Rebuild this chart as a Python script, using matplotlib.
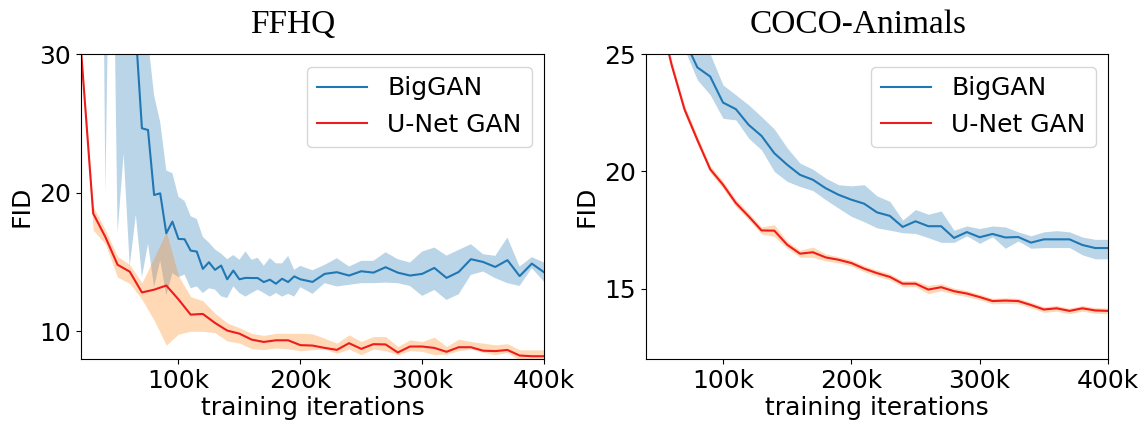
import matplotlib
matplotlib.use("Agg")
import matplotlib.pyplot as plt
import numpy as np

# ---------------- FFHQ ----------------
ffhq_unet_x = list(range(20, 401, 10))
ffhq_unet = [30.3, 18.5, 16.8, 14.8, 14.3, 12.8, 13.0, 13.3, 12.3, 11.2,
             11.25, 10.6, 10.05, 9.83, 9.4, 9.23, 9.35, 9.35, 9.0, 8.97,
             8.8, 8.66, 9.14, 8.73, 9.07, 9.05, 8.47, 8.9, 8.9, 8.8,
             8.52, 8.85, 8.85, 8.6, 8.57, 8.65, 8.25, 8.2, 8.2]
ffhq_unet_hi = [30.6, 19.0, 17.3, 15.4, 14.8, 13.5, 15.3, 17.2, 14.0, 12.5,
                12.2, 11.3, 10.6, 10.25, 9.85, 9.7, 9.85, 9.85, 9.86, 9.81,
                9.5, 9.14, 9.74, 9.26, 9.62, 9.62, 8.9, 9.38, 9.26, 9.57,
                8.9, 9.43, 9.26, 9.14, 9.02, 9.1, 8.66, 8.66, 8.66]
ffhq_unet_lo = [29.9, 17.3, 16.3, 13.9, 13.45, 12.3, 10.8, 9.0, 9.8, 10.0,
                10.0, 9.9, 9.3, 9.15, 8.75, 8.68, 8.8, 8.73, 8.6, 8.67,
                8.72, 8.41, 8.72, 8.31, 8.72, 8.6, 8.31, 8.6, 8.55, 8.31,
                8.36, 8.6, 8.72, 8.48, 8.31, 8.48, 7.9, 7.85, 7.85]

ffhq_big_x = list(range(20, 200, 5)) + list(range(200, 401, 10))
ffhq_big = [85, 80, 74, 68, 62, 56, 50, 45, 40, 31.5,
            24.64, 24.52, 19.83, 19.95, 17.07, 17.91, 16.66, 16.64, 15.82, 15.75,
            14.5, 14.98, 14.43, 14.74, 13.75, 14.38, 13.75, 13.85, 13.84, 13.84,
            13.55, 13.72, 13.43, 13.79, 13.55, 13.96,
            13.75, 13.56, 14.14, 14.26, 14.02, 14.33, 14.23, 14.62, 14.23, 14.02,
            14.14, 14.57, 13.85, 14.28, 15.2, 15.0, 14.64, 15.13, 13.98, 14.88, 14.26]
ffhq_big_hi = [110, 105, 98, 92, 85, 80, 74, 68, 62, 50,
               40, 31, 27, 25.1, 21.6, 21.4, 19.7, 19.4, 18.3, 18.1,
               16.8, 16.4, 15.9, 15.6, 15.2, 15.5, 15.16, 15.76, 15.16, 15.3,
               14.73, 15.28, 14.9, 14.9, 15.44, 14.43,
               14.72, 14.4, 14.79, 15.27, 14.67, 15.08, 15.08, 15.7, 15.2, 14.96,
               15.75, 16.04, 15.46, 15.87, 16.28, 15.56, 15.44, 16.76, 14.67, 15.35, 14.96]
ffhq_big_lo = [60, 58, 55, 70, 20.0, 49, 17.1, 22.8, 14.7, 18.4,
               13.9, 16.3, 13.2, 15.1, 12.6, 14.2, 13.9, 14.1, 13.1, 13.24,
               12.76, 13.1, 13.0, 12.52, 12.4, 13.24, 12.76, 12.5, 12.76, 13.0,
               12.76, 12.5, 12.76, 12.5, 12.7, 12.5,
               13.18, 12.7, 13.47, 13.23, 13.35, 13.47, 13.47, 13.51, 13.47, 13.27,
               12.55, 12.98, 12.26, 12.67, 14.07, 14.31, 13.83, 13.47, 13.27, 14.55, 13.58]

# ---------------- COCO-Animals ----------------
coco_x = list(range(40, 401, 10))
coco_unet = [29.5, 26.8, 24.53, 22.64, 21.34, 20.09, 19.43, 18.65, 18.08, 17.48,
             17.47, 16.87, 16.49, 16.55, 16.33, 16.23, 16.09, 15.85, 15.66, 15.5,
             15.21, 15.21, 14.96, 15.06, 14.89, 14.79, 14.64, 14.47, 14.49, 14.47,
             14.3, 14.11, 14.16, 14.05, 14.16, 14.07, 14.05]
coco_unet_std = [0.2, 0.2, 0.2, 0.18, 0.17, 0.15, 0.15, 0.15, 0.15, 0.15,
                 0.25, 0.15, 0.15, 0.22, 0.15, 0.13, 0.13, 0.13, 0.13, 0.13,
                 0.13, 0.13, 0.18, 0.15, 0.13, 0.13, 0.12, 0.12, 0.12, 0.12,
                 0.12, 0.12, 0.12, 0.12, 0.12, 0.12, 0.12]
coco_big = [31, 29, 27, 25.6, 24.43, 24.04, 22.93, 22.65, 21.98, 21.51,
            20.77, 20.28, 19.85, 19.64, 19.28, 19.0, 18.79, 18.62, 18.25, 18.1,
            17.63, 17.87, 17.66, 17.66, 17.16, 17.41, 17.19, 17.33, 17.18, 17.2,
            16.96, 17.1, 17.1, 17.1, 16.86, 16.73, 16.73]
coco_big_hi = [33, 31, 29, 27, 25.8, 25.0, 23.68, 23.26, 22.83, 22.33,
               21.8, 21.0, 20.35, 20.09, 19.71, 19.43, 19.38, 19.43, 18.95, 18.72,
               17.92, 18.37, 18.17, 18.31, 17.49, 17.67, 17.56, 17.67, 17.63, 17.42,
               17.25, 17.42, 17.47, 17.42, 17.2, 17.1, 17.1]
coco_big_lo = [29, 27.5, 26, 25.2, 23.9, 23.26, 22.26, 22.19, 21.41, 20.91,
               19.99, 19.57, 19.35, 19.18, 18.79, 18.43, 18.08, 17.85, 17.59, 17.49,
               17.38, 17.35, 17.17, 16.97, 16.97, 17.25, 16.93, 17.21, 16.72, 17.03,
               16.72, 16.75, 16.75, 16.75, 16.44, 16.27, 16.27]

xticks = [100, 200, 300, 400]
xticklabels = ["100k", "200k", "300k", "400k"]

BLUE = "#1f77b4"
RED = "#ee1c1c"
FILL_B = "#1f77b4"
FILL_R = "#ff7f0e"

plt.rcParams["font.family"] = ["DejaVu Sans"]
fig = plt.figure(figsize=(11.47, 4.24), dpi=100)
ax1 = fig.add_axes([81/1147, 65/424, 463/1147, 305/424])
ax2 = fig.add_axes([646/1147, 65/424, 462/1147, 305/424])

# FFHQ
ax1.fill_between(ffhq_big_x, ffhq_big_lo, ffhq_big_hi, color=FILL_B, alpha=0.3, lw=0)
ax1.fill_between(ffhq_unet_x, ffhq_unet_lo, ffhq_unet_hi, color=FILL_R, alpha=0.3, lw=0)
ax1.plot(ffhq_big_x, ffhq_big, color=BLUE, lw=1.5, label="BigGAN")
ax1.plot(ffhq_unet_x, ffhq_unet, color=RED, lw=1.5, label="U-Net GAN")
ax1.set_xlim(20, 400)
ax1.set_ylim(8, 30)
ax1.set_yticks([10, 20, 30])

# COCO
lo = np.array(coco_unet) - np.array(coco_unet_std)
hi = np.array(coco_unet) + np.array(coco_unet_std)
ax2.fill_between(coco_x, coco_big_lo, coco_big_hi, color=FILL_B, alpha=0.3, lw=0)
ax2.fill_between(coco_x, lo, hi, color=FILL_R, alpha=0.3, lw=0)
ax2.plot(coco_x, coco_big, color=BLUE, lw=1.5, label="BigGAN")
ax2.plot(coco_x, coco_unet, color=RED, lw=1.5, label="U-Net GAN")
ax2.set_xlim(40, 400)
ax2.set_ylim(12, 25)
ax2.set_yticks([15, 20, 25])

for ax, title, tx in [(ax1, "FFHQ", 0.457), (ax2, "COCO-Animals", 0.46)]:
    ax.set_xticks(xticks)
    ax.set_xticklabels(xticklabels)
    ax.tick_params(labelsize=18)
    ax.set_xlabel("training iterations", fontsize=18, labelpad=2)
    ax.set_ylabel("FID", fontsize=18, labelpad=4)
    ax.set_title(title, fontsize=24, family="Liberation Serif", pad=15, x=tx)
    ax.legend(loc="upper right", fontsize=18)

fig.savefig("out.png", dpi=100)
